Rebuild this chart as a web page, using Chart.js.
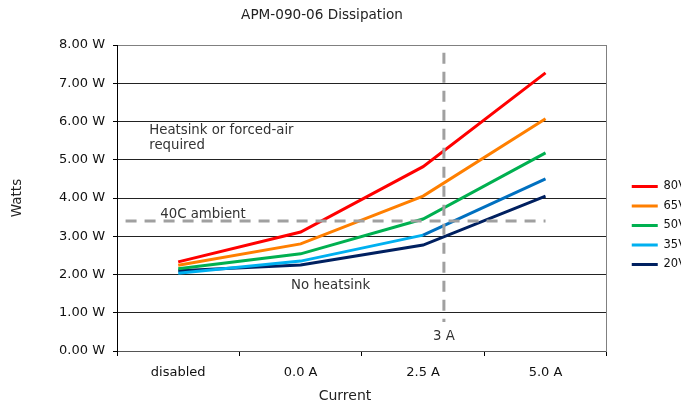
<!DOCTYPE html>
<html>
<head>
<meta charset="utf-8">
<script src="https://cdn.jsdelivr.net/npm/chart.js@4"></script>
<style>
    html, body { margin: 0; padding: 0; background: #fff; overflow: hidden; }
    canvas { display: block; }
</style>
</head>
<body>
<canvas id="dissipationChart" width="696" height="406"></canvas>
<script>
// ===== DATA =====
const CURRENT_LABELS = ['disabled', '0.0 A', '2.5 A', '5.0 A'];
const SERIES_NAMES = ['80V', '65V', '50V', '35V', '20V'];
const WATTS_80V = [2.33, 3.11, 4.82, 7.27];
const WATTS_65V = [2.24, 2.80, 4.05, 6.07];
const WATTS_50V = [2.15, 2.54, 3.45, 5.18];
const WATTS_35V = [2.03, 2.35, 3.03, 4.50];
const WATTS_20V = [2.10, 2.25, 2.77, 4.05];
const WATT_TICKS = [0, 1, 2, 3, 4, 5, 6, 7, 8];

// 40C ambient limit (W) and the 3 A marker (position on the category axis)
const AMBIENT_LIMIT_W = 3.4;
const AMBIENT_LINE_FROM = -0.43;
const AMBIENT_LINE_TO = 3;
const LIMIT_CURRENT_POS = 2.17;
const LIMIT_LINE_TOP_W = 7.8;
const LIMIT_LINE_BOTTOM_W = 0.76;

// ===== STYLE =====
const COLORS = ['#ff0000', '#ff7f00', '#00b050', '#00b0f0', '#002060'];
const FONT = '"DejaVu Sans", Verdana, sans-serif';

// text notes placed in axis units (category index, watts)
const NOTES = [
    { text: 'Heatsink or forced-air', x: -0.237, y: 5.76, align: 'left' },
    { text: 'required', x: -0.237, y: 5.38, align: 'left' },
    { text: '40C ambient', x: -0.147, y: 3.56, align: 'left' },
    { text: 'No heatsink', x: 0.922, y: 1.72, align: 'left' },
    { text: '3 A', x: LIMIT_CURRENT_POS, y: 0.38, align: 'center' }
];

const seriesValues = [WATTS_80V, WATTS_65V, WATTS_50V, WATTS_35V, WATTS_20V];

const datasets = SERIES_NAMES.map((name, i) => ({
    label: name,
    data: seriesValues[i],
    borderColor: COLORS[i],
    backgroundColor: COLORS[i],
    borderWidth: 3,
    pointRadius: 0,
    tension: 0,
    // the 35V line turns a darker blue on its last stretch
    segment: i === 3 ? { borderColor: c => c.p0DataIndex === 2 ? '#0070c0' : undefined } : undefined
}));

// dashed limit lines, notes, title and x axis caption
const notesPlugin = {
    id: 'notes',
    afterDraw(chart) {
        const ctx = chart.ctx;
        const x = chart.scales.x;
        const y = chart.scales.y;

        ctx.save();
        ctx.strokeStyle = '#a0a0a0';
        ctx.lineWidth = 3;
        ctx.setLineDash([11, 8]);
        ctx.beginPath();
        ctx.moveTo(x.getPixelForValue(AMBIENT_LINE_FROM), y.getPixelForValue(AMBIENT_LIMIT_W));
        ctx.lineTo(x.getPixelForValue(AMBIENT_LINE_TO), y.getPixelForValue(AMBIENT_LIMIT_W));
        ctx.stroke();
        ctx.beginPath();
        ctx.moveTo(x.getPixelForValue(LIMIT_CURRENT_POS), y.getPixelForValue(LIMIT_LINE_TOP_W));
        ctx.lineTo(x.getPixelForValue(LIMIT_CURRENT_POS), y.getPixelForValue(LIMIT_LINE_BOTTOM_W));
        ctx.stroke();
        ctx.setLineDash([]);

        ctx.fillStyle = '#333';
        ctx.font = '13.3px ' + FONT;
        ctx.textBaseline = 'middle';
        NOTES.forEach(n => {
            ctx.textAlign = n.align;
            ctx.fillText(n.text, x.getPixelForValue(n.x), y.getPixelForValue(n.y));
        });

        ctx.fillStyle = '#222';
        ctx.textAlign = 'center';
        ctx.font = '13.6px ' + FONT;
        ctx.fillText('APM-090-06 Dissipation', 322, 15);
        ctx.font = '14px ' + FONT;
        ctx.fillText('Current', 345, 396);
        ctx.restore();
    }
};

new Chart(document.getElementById('dissipationChart'), {
    type: 'line',
    data: { labels: CURRENT_LABELS, datasets: datasets },
    plugins: [notesPlugin],
    options: {
        responsive: false,
        animation: false,
        layout: { padding: { top: 45, left: 0, bottom: 0, right: 0 } },
        plugins: {
            title: { display: false },
            tooltip: { enabled: false },
            legend: {
                position: 'right',
                labels: {
                    usePointStyle: true,
                    pointStyle: 'line',
                    pointStyleWidth: 26,
                    padding: 8,
                    color: '#111',
                    font: { family: FONT, size: 11.5 }
                }
            }
        },
        scales: {
            x: {
                offset: true,
                grid: { offset: true, drawOnChartArea: false, tickLength: 5, tickColor: '#000' },
                border: { color: '#555' },
                ticks: { color: '#111', padding: 9, font: { family: FONT, size: 13 } },
                afterFit: s => { s.height = 55; }
            },
            y: {
                min: 0,
                max: 8,
                afterBuildTicks: s => { s.ticks = WATT_TICKS.map(v => ({ value: v })); },
                grid: {
                    color: c => c.tick && c.tick.value === 8 ? '#808080' : '#222',
                    tickLength: 4,
                    tickColor: '#000'
                },
                border: { color: '#000' },
                ticks: {
                    color: '#111',
                    padding: 8,
                    font: { family: FONT, size: 13 },
                    callback: v => v.toFixed(2) + ' W'
                },
                title: {
                    display: true,
                    text: 'Watts',
                    color: '#222',
                    padding: { top: 9.4 },
                    font: { family: FONT, size: 13.5 }
                },
                afterFit: s => { s.width = 117; }
            },
            // empty right axis: keeps a gap before the legend and draws the right border
            y2: {
                position: 'right',
                grid: { display: false },
                ticks: { display: false },
                border: { display: true, color: '#808080' },
                afterFit: s => { s.width = 17; }
            }
        }
    }
});
</script>
</body>
</html>
